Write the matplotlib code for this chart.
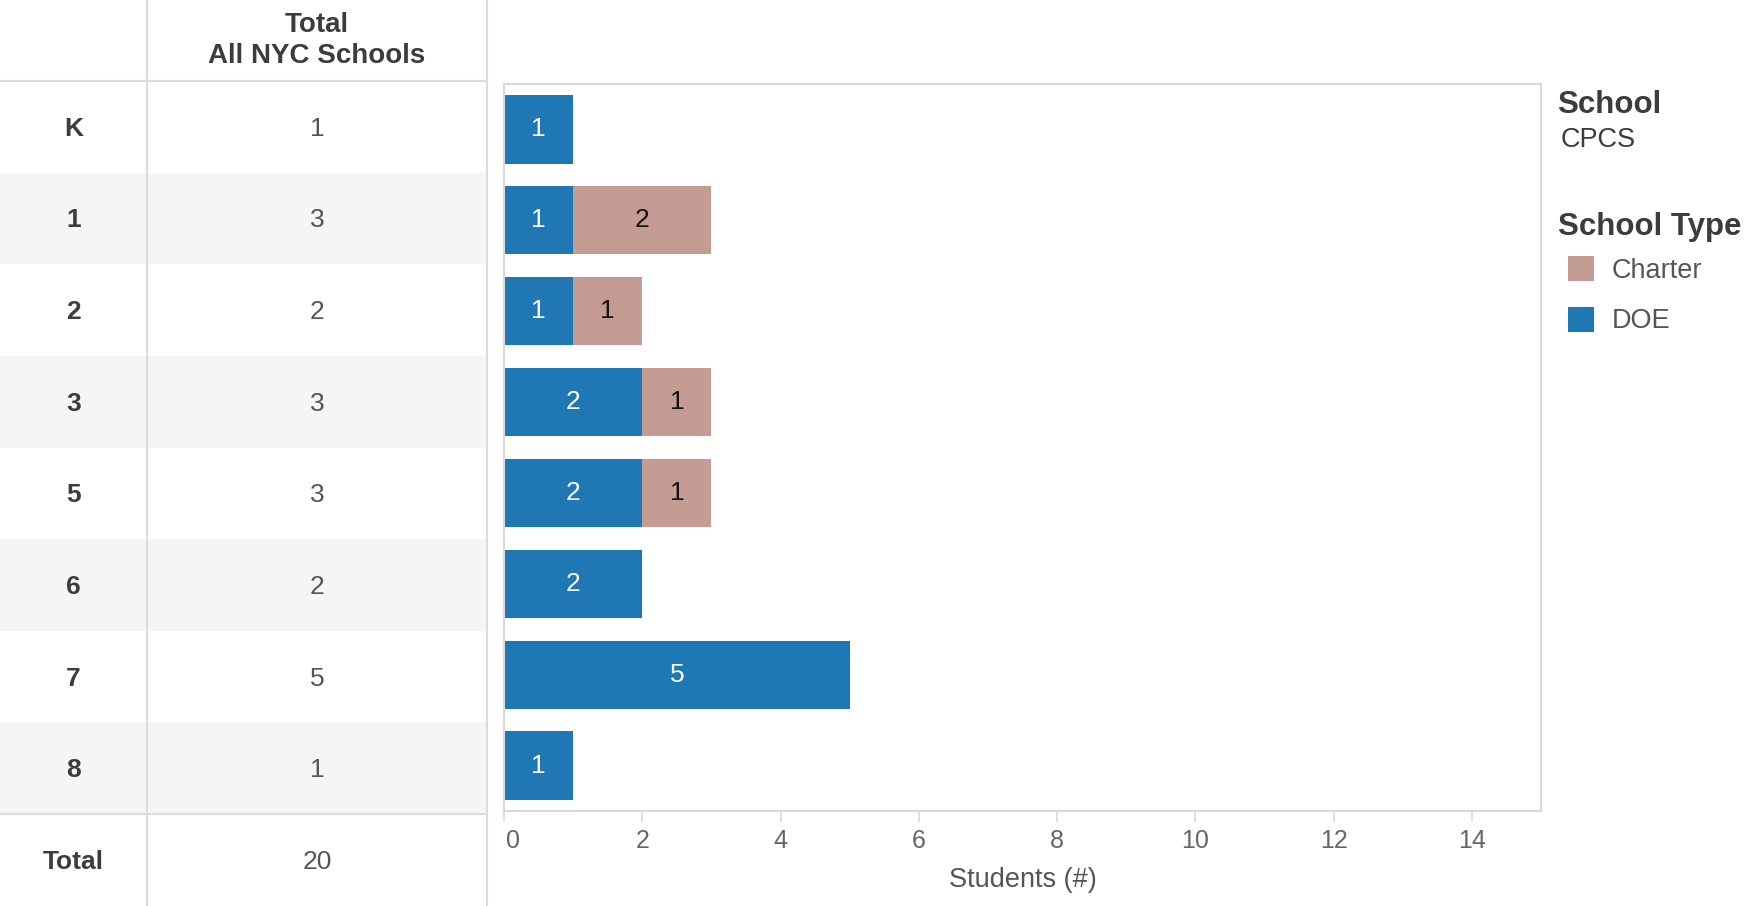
import matplotlib
matplotlib.use("Agg")
import matplotlib.pyplot as plt
from matplotlib.patches import Rectangle
from matplotlib.transforms import ScaledTranslation

plt.rcParams['font.family'] = ['Liberation Sans', 'DejaVu Sans']

# ---- data ----
grades = ['K', '1', '2', '3', '5', '6', '7', '8']
doe = [1, 1, 1, 2, 2, 2, 5, 1]
charter = [0, 2, 1, 1, 1, 0, 0, 0]
totals = [d + c for d, c in zip(doe, charter)]
grand_total = sum(totals)
xticks = [0, 2, 4, 6, 8, 10, 12, 14]
legend_labels = ['Charter', 'DOE']

BLUE = '#1F77B4'
BROWN = '#C49C94'
W, H = 1750, 906

fig = plt.figure(figsize=(W / 100, H / 100), dpi=100)

# ---- overlay axes in pixel coordinates (table + legend) ----
ov = fig.add_axes([0, 0, 1, 1], zorder=0)
ov.set_xlim(0, W)
ov.set_ylim(H, 0)
ov.axis('off')

line_c = '#DCDCDC'
head_h = 81
row_h = (814 - 81) / len(grades)
col1, col2 = 147, 487
TS = 19

for i, g in enumerate(grades):
    top = head_h + i * row_h
    if i % 2 == 1:
        ov.add_patch(Rectangle((0, top), col2, row_h, color='#F5F5F5', lw=0, zorder=0))
    yb = top + row_h / 2 + 9
    ov.text(col1 / 2, yb, g, ha='center', va='baseline', fontsize=TS,
            fontweight='bold', color='#3C3C3C')
    ov.text((col1 + col2) / 2, yb, str(totals[i]), ha='center', va='baseline',
            fontsize=TS, color='#555555')

# total row
yb = 814 + (H - 814) / 2 + 9
ov.text(col1 / 2, yb, 'Total', ha='center', va='baseline', fontsize=TS,
        fontweight='bold', color='#3C3C3C')
ov.text((col1 + col2) / 2, yb, str(grand_total), ha='center', va='baseline',
        fontsize=TS, color='#555555')

# header
ov.text((col1 + col2) / 2, 32, 'Total', ha='center', va='baseline', fontsize=20,
        fontweight='bold', color='#3C3C3C')
ov.text((col1 + col2) / 2, 63, 'All NYC Schools', ha='center', va='baseline',
        fontsize=20, fontweight='bold', color='#3C3C3C')

# grid lines of table
ov.plot([col1, col1], [0, H], color=line_c, lw=1.5, zorder=2)
ov.plot([col2, col2], [0, H], color=line_c, lw=1.5, zorder=2)
ov.plot([0, col2], [head_h, head_h], color=line_c, lw=1.5, zorder=2)
ov.plot([0, col2], [814, 814], color=line_c, lw=1.5, zorder=2)

# legend
ov.text(1557, 113, 'School', ha='left', va='baseline', fontsize=22.5,
        fontweight='bold', color='#3C3C3C')
ov.text(1561, 147, 'CPCS', ha='left', va='baseline', fontsize=19.5, color='#3C3C3C')
ov.text(1558, 235, 'School Type', ha='left', va='baseline', fontsize=22.5,
        fontweight='bold', color='#3C3C3C')
for k, (lab, col) in enumerate(zip(legend_labels, [BROWN, BLUE])):
    yc = 268.5 + k * 51
    ov.add_patch(Rectangle((1568, yc - 12.5), 26, 25, color=col, lw=0))
    ov.text(1612, yc + 9, lab, ha='left', va='baseline', fontsize=19.5, color='#555555')

# ---- bar chart ----
ax = fig.add_axes([504 / W, (H - 811) / H, (1541 - 504) / W, (811 - 84) / H], zorder=1)
y = list(range(len(grades)))
b1 = ax.barh(y, doe, height=0.75, color=BLUE)
b2 = ax.barh(y, charter, left=doe, height=0.75, color=BROWN)
ax.bar_label(b1, labels=[str(v) if v else '' for v in doe], label_type='center',
             color='white', fontsize=19)
ax.bar_label(b2, labels=[str(v) if v else '' for v in charter], label_type='center',
             color='#111111', fontsize=19)

ax.set_xlim(0, 15)
ax.set_ylim(len(grades) - 0.5, -0.5)
ax.set_yticks([])
ax.set_xticks(xticks)
ax.set_xticklabels([str(t) for t in xticks])
ax.tick_params(axis='x', length=8, width=1.2, color='#D9D9D9', labelcolor='#666666',
               labelsize=18, pad=5)
lab0 = ax.get_xticklabels()[0]
lab0.set_transform(lab0.get_transform() + ScaledTranslation(9 / 100, 0, fig.dpi_scale_trans))
for s in ax.spines.values():
    s.set_color('#D9D9D9')
    s.set_linewidth(1.5)
ax.set_xlabel('Students (#)', fontsize=19.5, color='#555555', labelpad=10)

fig.savefig('out.png', dpi=100)
